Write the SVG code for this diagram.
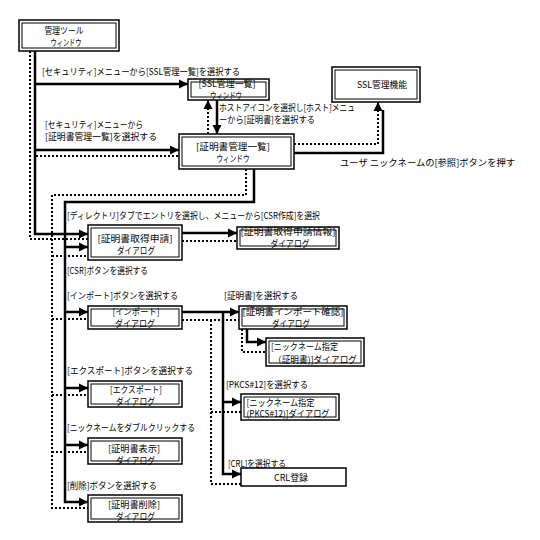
<svg xmlns="http://www.w3.org/2000/svg" width="540" height="540" viewBox="0 0 540 540">
<style>
.s{fill:none;stroke:#000;stroke-width:2.5}
.d{fill:none;stroke:#000;stroke-width:2;stroke-dasharray:2 2}
.bo{fill:#fff;stroke:#000;stroke-width:1.5}
.bi{fill:none;stroke:#000;stroke-width:1}
text{font-family:"Noto Sans CJK JP","Noto Sans",sans-serif;font-size:9px;fill:#000}
.c{text-anchor:middle}
</style>
<defs>
<marker id="ah" markerWidth="10" markerHeight="10" refX="9" refY="5" orient="auto" markerUnits="userSpaceOnUse">
<path d="M0,0.5 L9,5 L0,9.5 z" fill="#000" stroke="none"/>
</marker>
</defs>
<rect width="540" height="540" fill="#fff"/>
<g id="connectors">
<path class="s" d="M35,51 V234 H88" marker-end="url(#ah)"/>
<path class="s" d="M35,84 H188" marker-end="url(#ah)"/>
<path class="s" d="M35,150 H179" marker-end="url(#ah)"/>
<path class="d" d="M30,51 V239 H88"/>
<path class="d" d="M36,156 H179"/>
<path class="s" d="M217,100 V134" marker-end="url(#ah)"/>
<path class="d" d="M208,134 V100" marker-end="url(#ah)"/>
<path class="s" d="M294,153 H383 V110"/>
<path class="d" d="M294,144 H378 V102" marker-end="url(#ah)"/>
<path class="s" d="M254,169 V202 H65 V502 H88" marker-end="url(#ah)"/>
<path class="s" d="M65,247 H88" marker-end="url(#ah)"/>
<path class="s" d="M65,312 H88" marker-end="url(#ah)"/>
<path class="s" d="M65,388 H88" marker-end="url(#ah)"/>
<path class="s" d="M65,445 H88" marker-end="url(#ah)"/>
<path class="d" d="M246,169 V195 H52 V508 H88"/>
<path class="d" d="M52,256 H88"/>
<path class="d" d="M52,319 H88"/>
<path class="d" d="M52,395 H88"/>
<path class="d" d="M52,452 H88"/>
<path class="s" d="M182,233 H237" marker-end="url(#ah)"/>
<path class="d" d="M182,241 H237"/>
<path class="s" d="M182,312 H239" marker-end="url(#ah)"/>
<path class="s" d="M223,312 V474 H241" marker-end="url(#ah)"/>
<path class="s" d="M223,402 H241" marker-end="url(#ah)"/>
<path class="d" d="M182,320 H239"/>
<path class="d" d="M211,320 V484 H241"/>
<path class="d" d="M211,412 H241"/>
<path class="s" d="M247,329 V342 H266" marker-end="url(#ah)"/>
<path class="d" d="M242,329 V352 H266"/>
</g>
<g id="kanri-tool">
<rect class="bo" x="19" y="20" width="100" height="31"/>
<rect class="bi" x="22" y="23" width="94" height="25"/>
<text class="c"><tspan x="64" y="33.5" textLength="39" lengthAdjust="spacingAndGlyphs">管理ツール</tspan><tspan x="66" y="45.5" textLength="31" lengthAdjust="spacingAndGlyphs">ウィンドウ</tspan></text>
</g>
<g id="ssl-list">
<rect class="bo" x="188" y="79" width="81" height="21"/>
<rect class="bi" x="191" y="82" width="75" height="15"/>
<text class="c"><tspan x="227" y="86.5" textLength="57" lengthAdjust="spacingAndGlyphs">[SSL管理一覧]</tspan><tspan x="226" y="98.5" textLength="32" lengthAdjust="spacingAndGlyphs">ウィンドウ</tspan></text>
</g>
<g id="ssl-kanri">
<rect class="bo" x="332" y="67" width="88" height="35"/>
<rect class="bi" x="335" y="70" width="82" height="29"/>
<text class="c" x="382" y="88" textLength="50" lengthAdjust="spacingAndGlyphs">SSL管理機能</text>
</g>
<g id="cert-list">
<rect class="bo" x="179" y="134" width="115" height="35"/>
<rect class="bi" x="182" y="137" width="109" height="29"/>
<text class="c"><tspan x="233" y="150" textLength="74" lengthAdjust="spacingAndGlyphs">[証明書管理一覧]</tspan><tspan x="233" y="162" textLength="33" lengthAdjust="spacingAndGlyphs">ウィンドウ</tspan></text>
</g>
<g id="csr-dialog">
<rect class="bo" x="88" y="225" width="94" height="35"/>
<rect class="bi" x="91" y="228" width="88" height="29"/>
<text class="c"><tspan x="135" y="241.5" textLength="75" lengthAdjust="spacingAndGlyphs">[証明書取得申請]</tspan><tspan x="136" y="253.5" textLength="38" lengthAdjust="spacingAndGlyphs">ダイアログ</tspan></text>
</g>
<g id="csr-info">
<rect class="bo" x="237" y="227" width="102" height="22"/>
<rect class="bi" x="240" y="230" width="96" height="16"/>
<text class="c"><tspan x="288" y="235" textLength="95" lengthAdjust="spacingAndGlyphs">[証明書取得申請情報]</tspan><tspan x="290" y="247" textLength="39" lengthAdjust="spacingAndGlyphs">ダイアログ</tspan></text>
</g>
<g id="import-dialog">
<rect class="bo" x="88" y="306" width="94" height="23"/>
<rect class="bi" x="91" y="309" width="88" height="17"/>
<text class="c"><tspan x="136" y="315" textLength="47" lengthAdjust="spacingAndGlyphs">[インポート]</tspan><tspan x="135" y="327" textLength="40" lengthAdjust="spacingAndGlyphs">ダイアログ</tspan></text>
</g>
<g id="import-confirm">
<rect class="bo" x="239" y="306" width="108" height="23"/>
<rect class="bi" x="242" y="309" width="102" height="17"/>
<text class="c"><tspan x="293" y="315" textLength="101" lengthAdjust="spacingAndGlyphs">[証明書インポート確認]</tspan><tspan x="291" y="327" textLength="38" lengthAdjust="spacingAndGlyphs">ダイアログ</tspan></text>
</g>
<g id="nick-cert">
<rect class="bo" x="266" y="338" width="98" height="28"/>
<rect class="bi" x="269" y="341" width="92" height="22"/>
<text><tspan x="271" y="349.5" textLength="67" lengthAdjust="spacingAndGlyphs">[ニックネーム指定</tspan><tspan x="273" y="363" textLength="84" lengthAdjust="spacingAndGlyphs">（証明書)]ダイアログ</tspan></text>
</g>
<g id="export-dialog">
<rect class="bo" x="88" y="381" width="94" height="26"/>
<rect class="bi" x="91" y="384" width="88" height="20"/>
<text class="c"><tspan x="136" y="392.5" textLength="52" lengthAdjust="spacingAndGlyphs">[エクスポート]</tspan><tspan x="135.5" y="404.5" textLength="39" lengthAdjust="spacingAndGlyphs">ダイアログ</tspan></text>
</g>
<g id="nick-pkcs">
<rect class="bo" x="241" y="394" width="98" height="26"/>
<rect class="bi" x="244" y="397" width="92" height="20"/>
<text><tspan x="246.5" y="405.5" textLength="68" lengthAdjust="spacingAndGlyphs">[ニックネーム指定</tspan><tspan x="246.5" y="417" textLength="83" lengthAdjust="spacingAndGlyphs">(PKCS#12)]ダイアログ</tspan></text>
</g>
<g id="cert-view">
<rect class="bo" x="88" y="438" width="94" height="26"/>
<rect class="bi" x="91" y="441" width="88" height="20"/>
<text class="c"><tspan x="134" y="451.5" textLength="52" lengthAdjust="spacingAndGlyphs">[証明書表示]</tspan><tspan x="135.5" y="463.5" textLength="39" lengthAdjust="spacingAndGlyphs">ダイアログ</tspan></text>
</g>
<g id="crl">
<rect class="bo" x="241" y="468" width="105" height="18" stroke-width="1"/>
<text class="c" x="291" y="480.5" textLength="34" lengthAdjust="spacingAndGlyphs">CRL登録</text>
</g>
<g id="cert-delete">
<rect class="bo" x="88" y="495" width="94" height="27"/>
<rect class="bi" x="91" y="498" width="88" height="21"/>
<text class="c"><tspan x="134" y="507.5" textLength="52" lengthAdjust="spacingAndGlyphs">[証明書削除]</tspan><tspan x="135.5" y="519.5" textLength="39" lengthAdjust="spacingAndGlyphs">ダイアログ</tspan></text>
</g>
<g id="labels">
<text x="42" y="74.5" textLength="198" lengthAdjust="spacingAndGlyphs">[セキュリティ]メニューから[SSL管理一覧]を選択する</text>
<text><tspan x="45" y="128" textLength="98" lengthAdjust="spacingAndGlyphs">[セキュリティ]メニューから</tspan><tspan x="45" y="140" textLength="112" lengthAdjust="spacingAndGlyphs">[証明書管理一覧]を選択する</tspan></text>
<text><tspan x="219" y="111" textLength="136" lengthAdjust="spacingAndGlyphs">ホストアイコンを選択し[ホスト]メニュ</tspan><tspan x="219" y="123" textLength="96" lengthAdjust="spacingAndGlyphs">ーから[証明書]を選択する</tspan></text>
<text x="340" y="166" textLength="175" lengthAdjust="spacingAndGlyphs">ユーザ ニックネームの[参照]ボタンを押す</text>
<text x="67" y="218.5" textLength="253" lengthAdjust="spacingAndGlyphs">[ディレクトリ]タブでエントリを選択し、メニューから[CSR作成]を選択</text>
<text x="67" y="273.5" textLength="81" lengthAdjust="spacingAndGlyphs">[CSR]ボタンを選択する</text>
<text x="67" y="298.5" textLength="111" lengthAdjust="spacingAndGlyphs">[インポート]ボタンを選択する</text>
<text x="224" y="298.5" textLength="74" lengthAdjust="spacingAndGlyphs">[証明書]を選択する</text>
<text x="67" y="373.5" textLength="126" lengthAdjust="spacingAndGlyphs">[エクスポート]ボタンを選択する</text>
<text x="226" y="387.5" textLength="82" lengthAdjust="spacingAndGlyphs">[PKCS#12]を選択する</text>
<text x="67" y="430.5" textLength="128" lengthAdjust="spacingAndGlyphs">[ニックネームをダブルクリックする</text>
<text x="228" y="467" textLength="58" lengthAdjust="spacingAndGlyphs">[CRL]を選択する</text>
<text x="67" y="488.5" textLength="90" lengthAdjust="spacingAndGlyphs">[削除]ボタンを選択する</text>
</g>
</svg>
